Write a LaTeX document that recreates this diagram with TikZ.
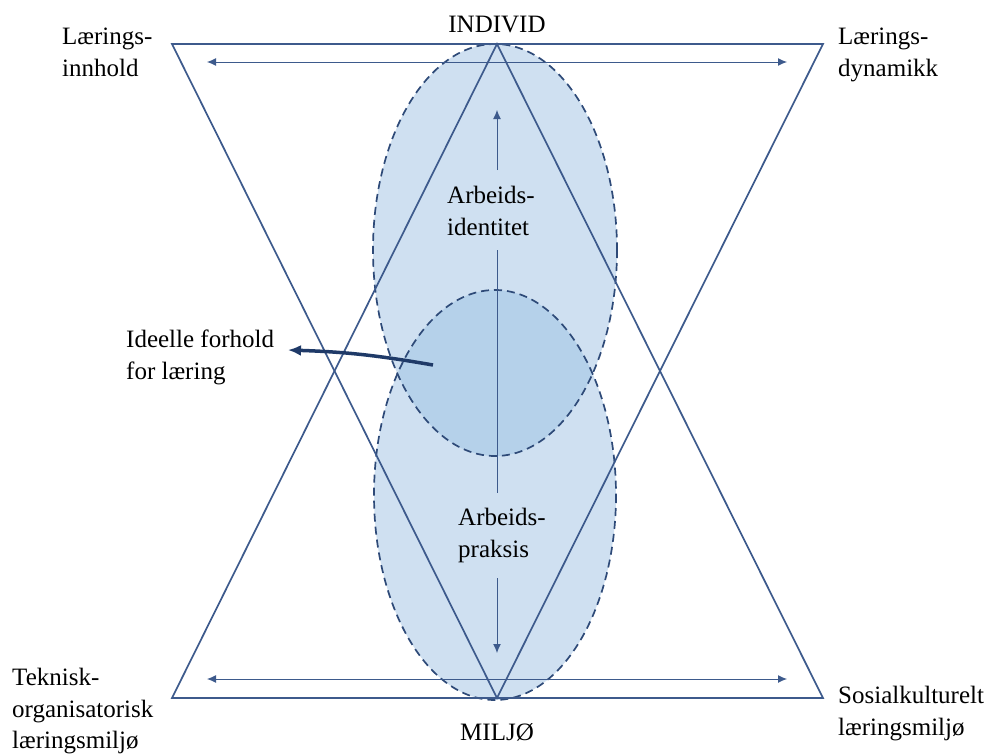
\documentclass[tikz,border=0pt]{standalone}
\usepackage{fontspec}
\setmainfont{Liberation Serif}
\usetikzlibrary{arrows.meta}
\definecolor{frame}{HTML}{3D5A8C}
\definecolor{navy}{HTML}{1F3A68}
\definecolor{lightfill}{HTML}{CFE0F1}
\definecolor{darkfill}{HTML}{B5D1EA}
\definecolor{rim}{HTML}{2E4A78}

\begin{document}
\begin{tikzpicture}[x=1pt, y=-1pt, font=\fontsize{25}{31.5}\selectfont,
  >={Latex[length=9pt,width=8pt]},
  lbl/.style={inner sep=0pt, align=left, anchor=north west},
  pole/.style={inner sep=0pt, anchor=base},
  side/.style={draw=frame, line width=1.7pt},
  dimarrow/.style={draw=frame, line width=1pt},
  zone/.style={draw=rim, line width=1.7pt, dash pattern=on 8pt off 5pt}]
  \useasboundingbox (0,0) rectangle (995,755);
  % corners of the two triangles
  \coordinate (tl) at (172,44);
  \coordinate (tr) at (823,44);
  \coordinate (bl) at (172,698);
  \coordinate (br) at (823,698);
  \coordinate (apexT) at (497,44);
  \coordinate (apexB) at (497,698);
  % the two ellipses and their overlap
  \coordinate (idc) at (495,250);
  \coordinate (mic) at (495,495);
  \fill[lightfill] (idc) ellipse [x radius=122, y radius=206];
  \fill[lightfill] (mic) ellipse [x radius=121, y radius=205];
  \begin{scope}
    \clip (idc) ellipse [x radius=122, y radius=206];
    \fill[darkfill] (mic) ellipse [x radius=121, y radius=205];
  \end{scope}
  \draw[zone] (idc) ellipse [x radius=122, y radius=206];
  \draw[zone] (mic) ellipse [x radius=121, y radius=205];
  % triangles
  \draw[side] (tl) -- (tr) -- (apexB) -- cycle;
  \draw[side] (bl) -- (br) -- (apexT) -- cycle;
  % horizontal arrows
  \coordinate (ha1) at (207,62);
  \coordinate (ha2) at (787,62);
  \coordinate (hb1) at (207,679);
  \coordinate (hb2) at (787,679);
  \draw[dimarrow,<->] (ha1) -- (ha2);
  \draw[dimarrow,<->] (hb1) -- (hb2);
  % vertical axis
  \coordinate (up1) at (497,170);
  \coordinate (up2) at (497,110);
  \coordinate (mid1) at (497,250);
  \coordinate (mid2) at (497,493);
  \coordinate (dn1) at (497,578);
  \coordinate (dn2) at (497,653);
  \draw[dimarrow,->] (up1) -- (up2);
  \draw[dimarrow] (mid1) -- (mid2);
  \draw[dimarrow,->] (dn1) -- (dn2);
  % labels
  \node[pole] (individ) at (497,32) {INDIVID};
  \node[pole] (miljo) at (497,740) {MILJØ};
  \node[lbl] (innhold) at (62,28) {Lærings-\\innhold};
  \node[lbl] (dynamikk) at (838,28) {Lærings-\\dynamikk};
  \node[lbl] (teknisk) at (12,668) {Teknisk-\\organisatorisk\\læringsmiljø};
  \node[lbl] (sosial) at (838,686) {Sosialkulturelt\\læringsmiljø};
  \node[lbl] (ideelle) at (126,330) {Ideelle forhold\\for læring};
  \node[lbl] (identitet) at (447,186) {Arbeids-\\identitet};
  \node[lbl] (praksis) at (458,508) {Arbeids-\\praksis};
  % pointer to the overlap
  \coordinate (ideal) at (433,365);
  \coordinate (idealTip) at (288,350);
  \draw[navy, line width=3.5pt, -{Latex[length=13pt,width=11pt]}]
    (ideal) to[bend right=4] (idealTip);
\end{tikzpicture}
\end{document}
